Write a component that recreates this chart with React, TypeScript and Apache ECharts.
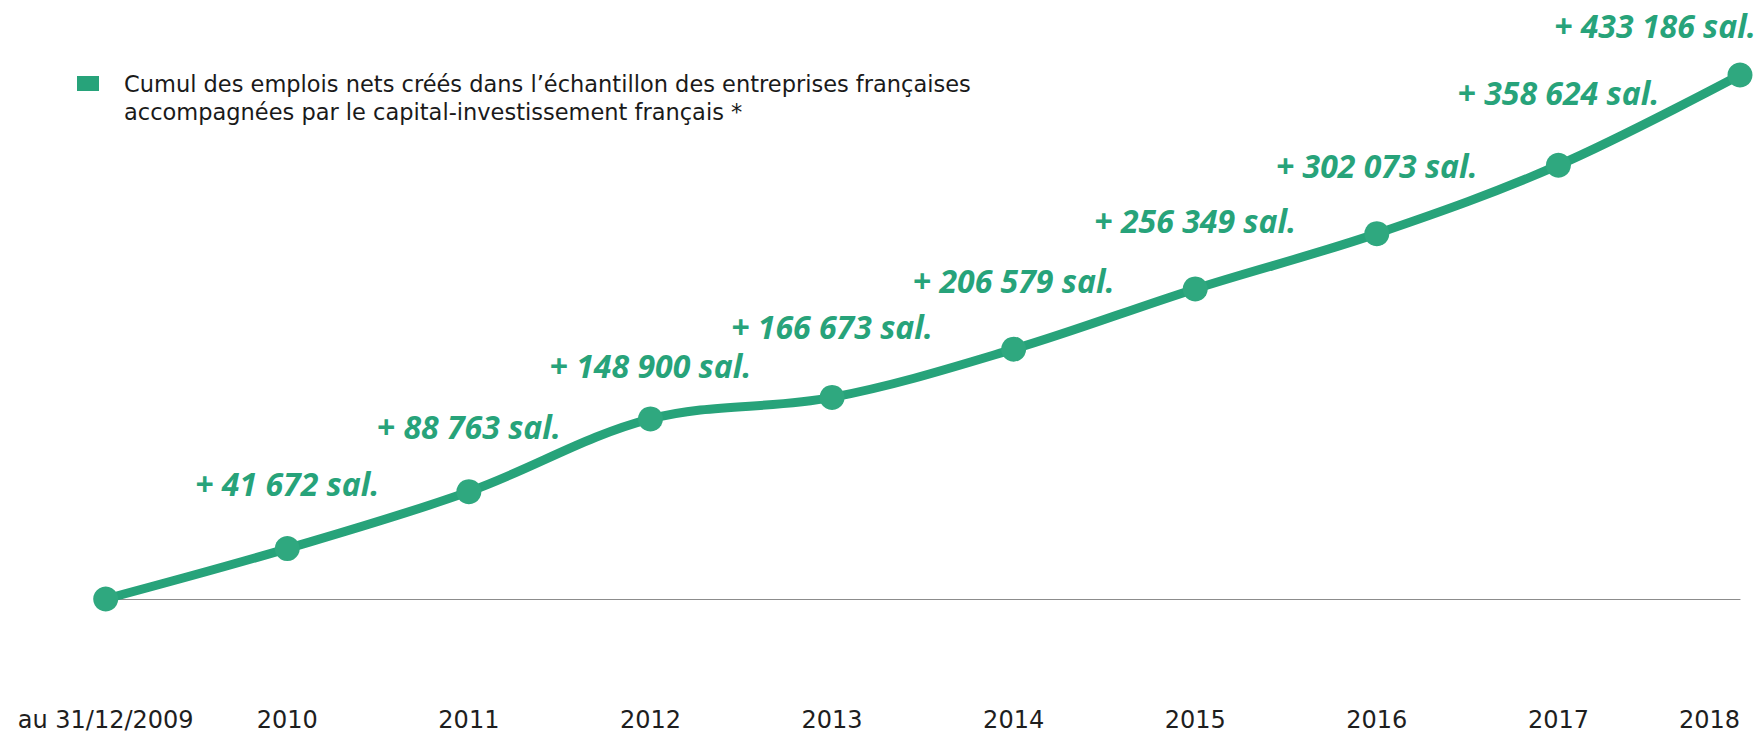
import React, { useEffect, useRef } from "react";
import * as echarts from "echarts";

const categories = ["au 31/12/2009", "2010", "2011", "2012", "2013", "2014", "2015", "2016", "2017", "2018"];
const jobsCumul = [0, 41672, 88763, 148900, 166673, 206579, 256349, 302073, 358624, 433186];
const legendLines = [
  "Cumul des emplois nets créés dans l’échantillon des entreprises françaises",
  "accompagnées par le capital-investissement français *",
];

const GREEN = "#27a37a";

function fmt(v: number): string {
  const s = String(v).replace(/\B(?=(\d{3})+(?!\d))/g, " ");
  return "+ " + s + " sal.";
}

export default function App() {
  const ref = useRef<HTMLDivElement>(null);
  useEffect(() => {
    document.body.style.margin = "0";
    if (!ref.current) return;
    const chart = echarts.init(ref.current, undefined, { renderer: "svg" });
    const labelGap = [0, 37, 37, 25, 42, 40, 40, 40, 44, 21];
    const data = jobsCumul.map((v, i) => {
      if (i === 0) return { value: v, label: { show: false } };
      const last = i === jobsCumul.length - 1;
      return {
        value: v,
        label: {
          show: true,
          distance: labelGap[i],
          offset: last ? [-85, 0] : [0, 0],
        },
      };
    });
    const catData = categories.map((c, i) =>
      i === categories.length - 1
        ? { value: c, textStyle: { align: "right" } }
        : { value: c }
    );
    chart.setOption({
      animation: false,
      grid: {
        left: 105.7,
        right: 22,
        top: 54.7,
        bottom: 134,
        containLabel: false,
        outerBoundsMode: "none",
      },
      xAxis: {
        type: "category",
        data: catData,
        boundaryGap: false,
        axisLine: { show: true, lineStyle: { color: "#8c8c8c", width: 1.2 } },
        axisTick: { show: false },
        splitLine: { show: false },
        axisLabel: {
          interval: 0,
          margin: 109,
          fontFamily: "DejaVu Sans",
          fontSize: 24,
          color: "#1e1e1e",
        },
      },
      yAxis: {
        type: "value",
        min: 0,
        max: 450000,
        show: false,
      },
      series: [
        {
          type: "line",
          data,
          smooth: 0.35,
          symbol: "circle",
          symbolSize: 25,
          lineStyle: { color: GREEN, width: 9 },
          itemStyle: { color: "#2fa87f" },
          z: 3,
          label: {
            position: "top",
            formatter: (p: any) => fmt(p.value),
            fontFamily: "Open Sans",
            fontWeight: "bold",
            fontStyle: "italic",
            fontSize: 32,
            color: GREEN,
          },
        },
      ],
      graphic: [
        {
          type: "rect",
          shape: { x: 77, y: 76, width: 22, height: 15 },
          style: { fill: GREEN },
        },
        {
          type: "text",
          x: 124,
          y: 70,
          style: {
            text: legendLines.join("\n"),
            fontFamily: "DejaVu Sans",
            fontSize: 22.5,
            lineHeight: 28,
            fill: "#1a1a1a",
            verticalAlign: "top",
          },
        },
      ],
    });
    return () => chart.dispose();
  }, []);
  return <div ref={ref} style={{ width: 1762, height: 733 }} />;
}
